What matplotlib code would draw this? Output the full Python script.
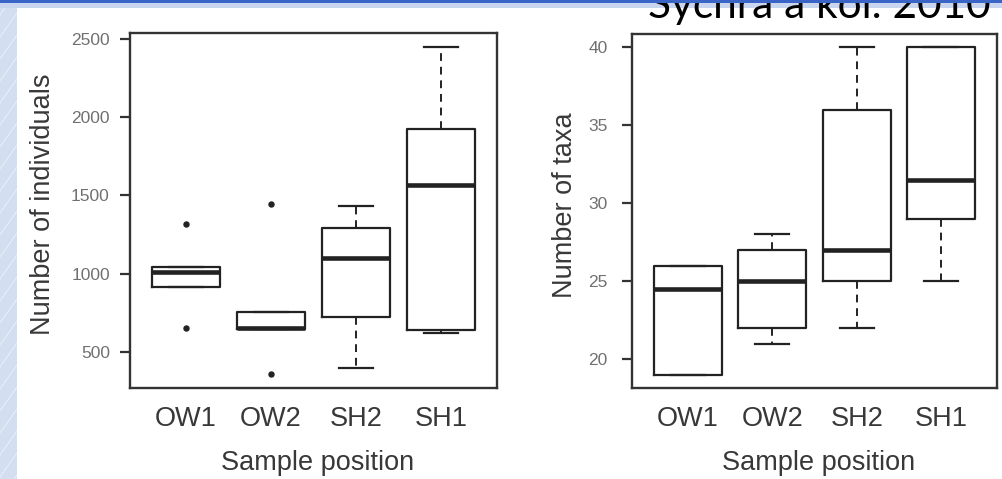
import matplotlib
matplotlib.use('Agg')
import matplotlib.pyplot as plt
from matplotlib.patches import Rectangle
from matplotlib.lines import Line2D

# ---------------- data ----------------
categories = ['OW1', 'OW2', 'SH2', 'SH1']

ind_q1 = [915, 648, 720, 638]
ind_med = [1010, 655, 1100, 1565]
ind_q3 = [1040, 755, 1290, 1925]
ind_whislo = [915, 648, 400, 622]
ind_whishi = [1040, 755, 1432, 2450]
ind_fliers = [[1320, 652], [1445, 357], [], []]
ind_yticks = [500, 1000, 1500, 2000, 2500]

taxa_q1 = [19, 22, 25, 29]
taxa_med = [24.5, 25, 27, 31.5]
taxa_q3 = [26, 27, 36, 40]
taxa_whislo = [19, 21, 22, 25]
taxa_whishi = [26, 28, 40, 40]
taxa_fliers = [[], [], [], []]
taxa_yticks = [20, 25, 30, 35, 40]

title_text = 'Sychra a kol. 2010'
xlabel_text = 'Sample position'
ylabel_left = 'Number of individuals'
ylabel_right = 'Number of taxa'

# ---------------- figure ----------------
W, H = 1002, 479
fig = plt.figure(figsize=(W / 100, H / 100), dpi=100)
fig.patch.set_facecolor('white')

FONT = 'Liberation Sans'
LINE = '#222222'


def px_axes(l, t, r, b):
    return fig.add_axes([l / W, 1 - b / H, (r - l) / W, (b - t) / H])


def make_stats(q1, med, q3, lo, hi, fl):
    return [dict(q1=a, med=m, q3=b, whislo=l, whishi=h, fliers=f, label=c)
            for a, m, b, l, h, f, c in zip(q1, med, q3, lo, hi, fl, categories)]


def draw_box(ax, stats, yticks, ylabel, ylim, ytick_pad, ylab_x):
    ax.bxp(stats, positions=range(1, len(categories) + 1), widths=0.8,
           capwidths=0.4, showfliers=True,
           boxprops=dict(color=LINE, linewidth=1.6),
           medianprops=dict(color=LINE, linewidth=3.3),
           whiskerprops=dict(color=LINE, linewidth=1.4, linestyle=(0, (4, 3))),
           capprops=dict(color=LINE, linewidth=1.6),
           flierprops=dict(marker='o', markersize=3.6, markerfacecolor=LINE,
                           markeredgecolor=LINE, linestyle='none'))
    n = len(categories)
    ax.set_xlim(0.5 - 0.04 * n, n + 0.5 + 0.04 * n)
    ax.set_ylim(*ylim)
    ax.set_yticks(yticks)
    ax.set_yticklabels([str(v) for v in yticks])
    ax.set_xticks(range(1, n + 1))
    ax.set_xticklabels(categories)
    for s in ax.spines.values():
        s.set_color('#333333')
        s.set_linewidth(1.7)
    ax.tick_params(axis='y', direction='out', length=7.5, width=1.6,
                   color='#333333', pad=ytick_pad, labelsize=12.5,
                   labelcolor='#707070')
    ax.tick_params(axis='x', length=0, pad=13, labelsize=19.5,
                   labelcolor='#383838')
    for lab in ax.get_xticklabels() + ax.get_yticklabels():
        lab.set_fontfamily(FONT)
    ax.set_ylabel(ylabel, fontsize=19.5, color='#383838', family=FONT,
                  va='center')
    ax.yaxis.set_label_coords(ylab_x, 0.517)
    ax.set_xlabel(xlabel_text, fontsize=19.5, color='#383838', family=FONT,
                  va='baseline')
    ax.xaxis.set_label_coords(0.51, -0.231)


ax1 = px_axes(130, 33, 497, 388)
ylo = min(min(f) for f in ind_fliers if f)
rng = max(ind_whishi) - ylo
draw_box(ax1, make_stats(ind_q1, ind_med, ind_q3, ind_whislo, ind_whishi, ind_fliers),
         ind_yticks, ylabel_left, (ylo - 0.04 * rng - 4, max(ind_whishi) + 0.04 * rng + 4),
         7.0, -0.237)

ax2 = px_axes(632, 34, 997, 388)
rng2 = max(taxa_whishi) - min(taxa_whislo)
draw_box(ax2, make_stats(taxa_q1, taxa_med, taxa_q3, taxa_whislo, taxa_whishi, taxa_fliers),
         taxa_yticks, ylabel_right,
         (min(taxa_whislo) - 0.04 * rng2, max(taxa_whishi) + 0.04 * rng2),
         10.0, -0.184)

# ---------------- slide decoration ----------------
strip = fig.add_axes([0, 0, 17 / W, 1 - 3 / H])
strip.set_xlim(0, 17)
strip.set_ylim(0, H - 3)
strip.set_axis_off()
strip.add_patch(Rectangle((0, 0), 17, H, facecolor='#d4def1', lw=0))
for k in range(-20, H + 40, 22):
    strip.add_line(Line2D([0, 17], [k, k + 24], color='white', lw=0.6, alpha=0.6))

fig.add_artist(Rectangle((0, 1 - 8 / H), 1, 5 / H, transform=fig.transFigure,
                         facecolor='#c9d6ef', lw=0, zorder=1))
title = fig.text(648 / W, 1 - 18 / H, title_text, fontsize=30, family='Lato',
                 color='black', ha='left', va='baseline', zorder=3)
fig.canvas.draw()
bb = title.get_window_extent()
title.set_fontsize(30 * 342 / bb.width)
fig.add_artist(Rectangle((0, 1 - 3 / H), 1, 3 / H, transform=fig.transFigure,
                         facecolor='#3a65c6', lw=0, zorder=10))

fig.savefig('out.png', dpi=100, facecolor='white')
